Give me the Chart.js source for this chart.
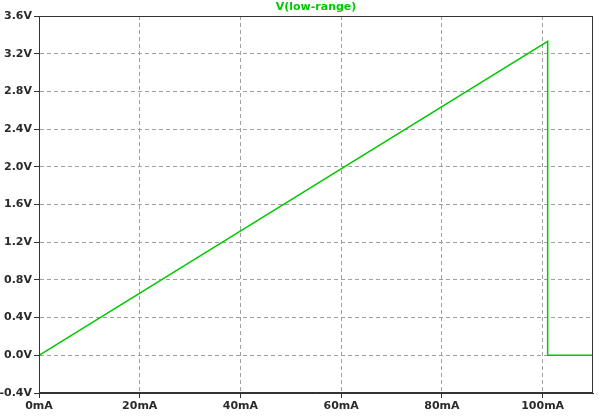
<!DOCTYPE html>
<html>
<head>
<meta charset="utf-8">
<script src="https://cdn.jsdelivr.net/npm/chart.js@4"></script>
<style>
  html, body { margin: 0; padding: 0; background: #fff; }
  #wrap { width: 603px; height: 420px; }
</style>
</head>
<body>
<div id="wrap"><canvas id="myChart" width="603" height="420"></canvas></div>
<script>
var ctx = document.getElementById('myChart').getContext('2d');

const seriesName = 'V(low-range)';
const currents = [0, 101, 101, 110];      // mA
const voltages = [0, 3.33, 0, 0];         // V
const xTicks = [0, 20, 40, 60, 80, 100];
const yTicks = [-0.4, 0, 0.4, 0.8, 1.2, 1.6, 2.0, 2.4, 2.8, 3.2, 3.6];

const green = '#00c800';
const textColor = '#2a2a2a';
const font = { family: 'DejaVu Sans', size: 11, weight: 'bold' };

// frame around plot + title above it
const framePlugin = {
    id: 'frame',
    afterDraw(chart) {
        const a = chart.chartArea;
        const c = chart.ctx;
        c.save();
        c.strokeStyle = '#333';
        c.lineWidth = 1;
        c.strokeRect(Math.round(a.left) + 0.5, Math.round(a.top) + 0.5,
            Math.round(a.right - a.left) - 1, Math.round(a.bottom - a.top) - 1);
        c.fillStyle = green;
        c.font = 'bold 11px "DejaVu Sans"';
        c.textAlign = 'center';
        c.textBaseline = 'middle';
        c.fillText(seriesName, (a.left + a.right) / 2, 7.5);
        c.restore();
    }
};

var myChart = new Chart(ctx, {
    type: 'scatter',
    data: {
        datasets: [{
            label: seriesName,
            data: currents.map((x, i) => ({ x: x, y: voltages[i] })),
            showLine: true,
            borderColor: green,
            borderWidth: 1.5,
            pointRadius: 0,
            tension: 0
        }]
    },
    options: {
        responsive: false,
        animation: false,
        layout: { padding: { top: 16, right: 10, left: 0, bottom: 0 } },
        plugins: {
            legend: { display: false },
            tooltip: { enabled: false }
        },
        scales: {
            x: {
                type: 'linear',
                min: 0,
                max: 110,
                afterFit(scale) { scale.height = 27; },
                afterBuildTicks(scale) { scale.ticks = xTicks.map(v => ({ value: v })); },
                ticks: {
                    color: textColor,
                    font: font,
                    padding: 2,
                    maxRotation: 0,
                    autoSkip: false,
                    callback: v => v + 'mA'
                },
                grid: { color: '#a0a0a0', tickColor: '#333', tickLength: 5 },
                border: { color: '#333', dash: [4, 3] }
            },
            y: {
                type: 'linear',
                min: -0.4,
                max: 3.6,
                afterFit(scale) { scale.width = 39; },
                afterBuildTicks(scale) { scale.ticks = yTicks.map(v => ({ value: v })); },
                ticks: {
                    color: textColor,
                    font: font,
                    padding: 2,
                    autoSkip: false,
                    callback: v => v.toFixed(1) + 'V'
                },
                grid: { color: '#a0a0a0', tickColor: '#333', tickLength: 5 },
                border: { color: '#333', dash: [4, 3] }
            }
        }
    },
    plugins: [framePlugin]
});
</script>
</body>
</html>
